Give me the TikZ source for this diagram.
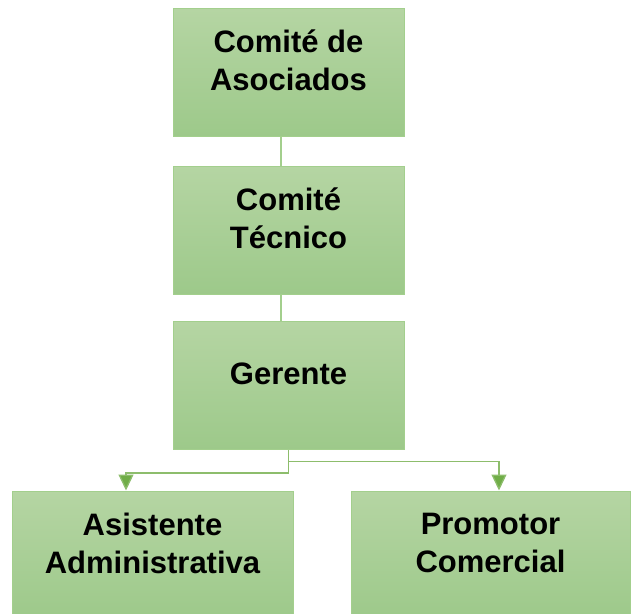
\documentclass[tikz,border=0pt]{standalone}
\usepackage{fontspec}
\setmainfont{Liberation Sans}
\usetikzlibrary{arrows.meta}
\definecolor{boxtop}{HTML}{B5D5A3}
\definecolor{boxbot}{HTML}{9DC98A}
\definecolor{boxline}{HTML}{A3CF8D}
\definecolor{linkgreen}{HTML}{70AD47}
\tikzset{
  orgbox/.style={draw=boxline, line width=1pt, top color=boxtop, bottom color=boxbot,
    minimum height=128, align=center, text depth=24pt,
    font=\fontsize{31}{38}\selectfont\bfseries},
  tie/.style={draw=boxline, line width=1.2pt},
  feed/.style={draw=linkgreen!80, line width=1.3pt,
    -{Triangle[width=15pt,length=16pt,fill=linkgreen]}},
}
\begin{document}
\begin{tikzpicture}[x=1pt, y=1pt]
				\clip (0,0) rectangle (634,-613);
				\node[orgbox, minimum width=231] (asoc) at (288.5,-72.5) {Comité de\\Asociados};
				\node[orgbox, minimum width=231] (tec) at (288.5,-230) {Comité\\Técnico};
				\node[orgbox, minimum width=231] (ger) at (288.5,-385.5) {Gerente};
				\node[orgbox, minimum width=281] (asis) at (152.5,-555) {Asistente\\Administrativa};
				\node[orgbox, minimum width=279] (prom) at (490.5,-555) {Promotor\\Comercial};
				\draw[tie] ([xshift=-7.5pt]asoc.south) -- ([xshift=-7.5pt]tec.north);
				\draw[tie] ([xshift=-7.5pt]tec.south) -- ([xshift=-7.5pt]ger.north);
				\draw[feed] (ger.south) -- ++(0,-23) -| ([xshift=-26.5pt]asis.north);
				\draw[feed] (ger.south) -- ++(0,-11.5) -| ([xshift=8.5pt]prom.north);
			\end{tikzpicture}
\end{document}
